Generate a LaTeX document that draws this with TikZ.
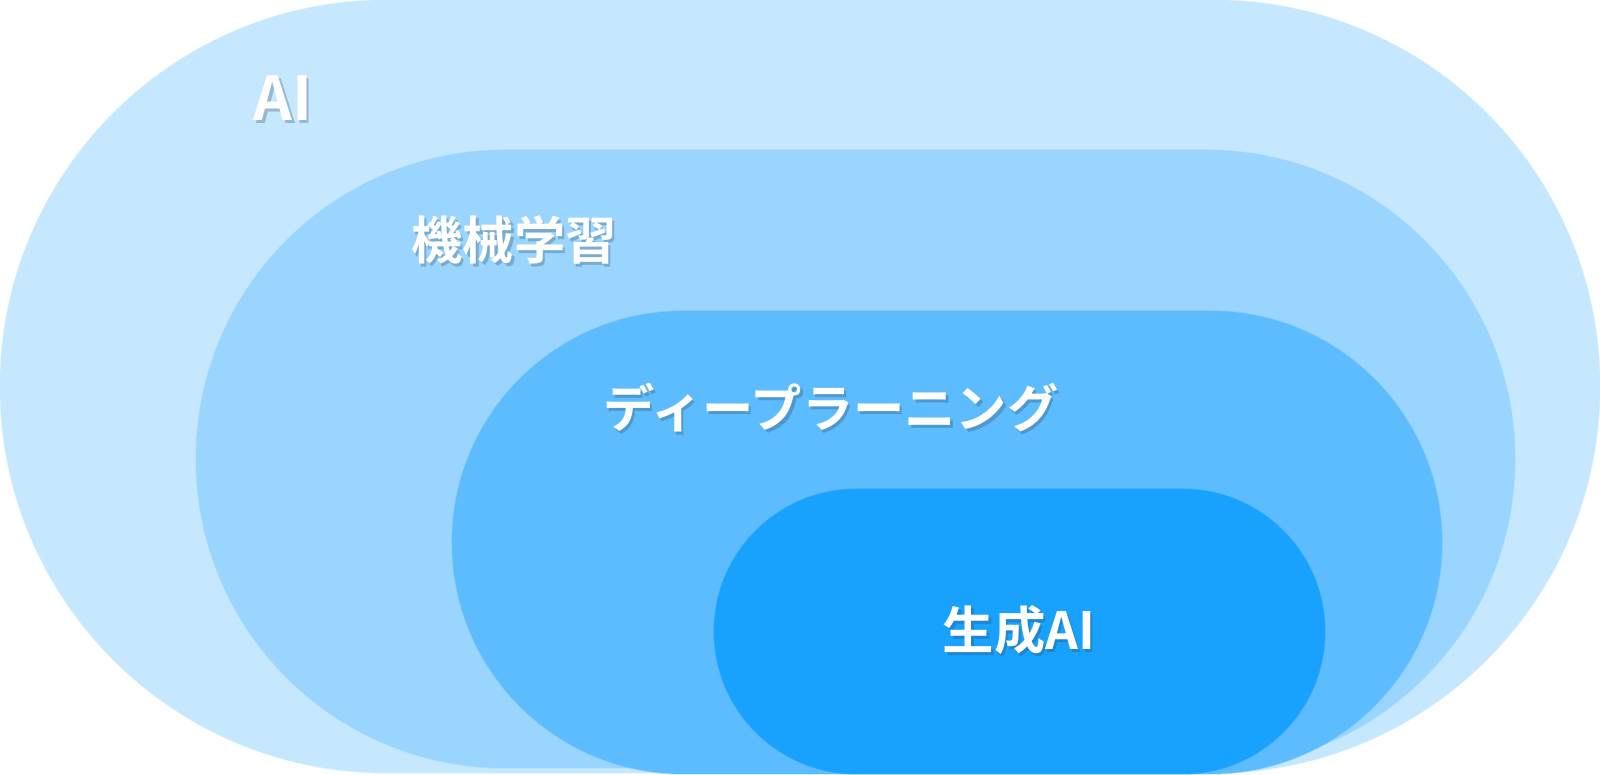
\documentclass[tikz,border=0pt]{standalone}
\usepackage{fontspec}
\usepackage{tikz}
\usetikzlibrary{calc}
\newfontfamily\jpfont{Noto Sans CJK JP}[BoldFont={* Bold}]
\definecolor{aiblue}{HTML}{C5E8FE}
\definecolor{mlblue}{HTML}{99D5FE}
\definecolor{dlblue}{HTML}{5DBCFD}
\definecolor{genblue}{HTML}{18A1FD}
\definecolor{shadowgray}{HTML}{2A4A66}
\tikzset{
  layer/.style={draw=white, draw opacity=0.35, line width=0.4pt},
  lbl/.style={text=white, inner sep=0pt},
  lblshadow/.style={text=shadowgray, text opacity=0.3, inner sep=0pt}
}
% label with a soft drop shadow
\newcommand{\layerlabel}[4]{%
  \node[lblshadow, font=#3] at ($#2+(0.025,-0.03)$) {#4};
  \node[lbl, font=#3] (#1) at #2 {#4};}

\begin{document}
\begin{tikzpicture}
    \useasboundingbox (0,0) rectangle (16,7.75);
    \fill[layer, aiblue, rounded corners=3.865cm] (0,0.02) rectangle (16,7.75);
    \fill[layer, mlblue, rounded corners=3.09cm] (1.96,0.07) rectangle (15.15,6.25);
    \fill[layer, dlblue, rounded corners=2.315cm] (4.52,0.01) rectangle (14.42,4.64);
    \fill[layer, genblue, rounded corners=1.425cm] (7.14,0.01) rectangle (13.25,2.86);
    \layerlabel{ai}{(2.83,6.77)}{\jpfont\bfseries\fontsize{17.2pt}{20pt}\selectfont}{AI}
    \layerlabel{ml}{(5.14,5.35)}{\jpfont\bfseries\fontsize{14.6pt}{17pt}\selectfont}{機械学習}
    \layerlabel{dl}{(8.31,3.67)}{\jpfont\bfseries\fontsize{14.6pt}{17pt}\selectfont}{ディープラーニング}
    \layerlabel{gen}{(10.19,1.45)}{\jpfont\bfseries\fontsize{14.6pt}{17pt}\selectfont}{生成AI}
\end{tikzpicture}
\end{document}
